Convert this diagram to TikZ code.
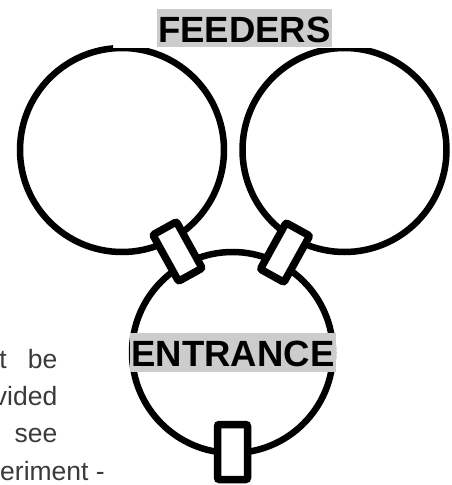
\documentclass[tikz,border=0pt]{standalone}
\usepackage{fontspec}
\setmainfont{Liberation Sans}
\usepackage{tikz}
\usetikzlibrary{positioning}
\definecolor{grisEtiqueta}{RGB}{204,204,204}
\definecolor{grisTexto}{RGB}{58,58,58}
\tikzset{
  nest/arena/.style={circle, draw=black, fill=none, line width=6.5pt,
    inner sep=0pt},
  nest/tube/.style={rectangle, draw=black, fill=white, line width=7.5pt,
    rounded corners=2pt, minimum width=27pt, minimum height=53pt,
    inner sep=0pt},
  nest/tag/.style={rectangle, fill=grisEtiqueta, inner xsep=1.5pt,
    inner ysep=0pt, text height=33.5pt, text depth=5pt,
    font=\fontsize{36.5}{40}\selectfont\bfseries},
  nest/note/.style={inner sep=0pt, anchor=base east, text=grisTexto,
    font=\fontsize{26.5}{30}\selectfont}
}
\begin{document}
\begin{tikzpicture}[x=1pt, y=-1pt]
  \useasboundingbox (0,0) rectangle (452,485);

  % Arenas (recortadas arriba)
  \begin{scope}
    \clip (0,0) -- (113,0) -- (113,48) -- (452,48) -- (452,485)
          -- (0,485) -- cycle;
    \node[nest/arena, minimum size=204pt] at (122,150)     (feedL) {};
    \node[nest/arena, minimum size=204pt] at (344.5,150)   (feedR) {};
    \node[nest/arena, minimum size=201pt] at (232.5,352.5) (entr)  {};
  \end{scope}

  % Etiquetas
  \node[nest/tag, anchor=base] at (244.5,42.3) (tFeed) {FEEDERS};
  \node[nest/tag, anchor=base] at (233,366.7)  (tEntr) {ENTRANCE};

  % Tubos de union
  \node[nest/tube, rotate=29]  at (177.5,251.5) (tubeL) {};
  \node[nest/tube, rotate=-29] at (285,252.5)   (tubeR) {};
  \node[nest/tube, minimum width=30pt, minimum height=55pt]
        at (232.5,452) (tubeB) {};

  % Texto cortado a la izquierda
  \node[nest/note] at (57.5,368.3) (n1) {t\hspace{21pt}be};
  \node[nest/note] at (57.5,405)   (n2) {vided};
  \node[nest/note] at (57.5,442.7) (n3) {see};
  \node[nest/note, anchor=base west] at (0,480) (n4) {eriment -};
\end{tikzpicture}
\end{document}
